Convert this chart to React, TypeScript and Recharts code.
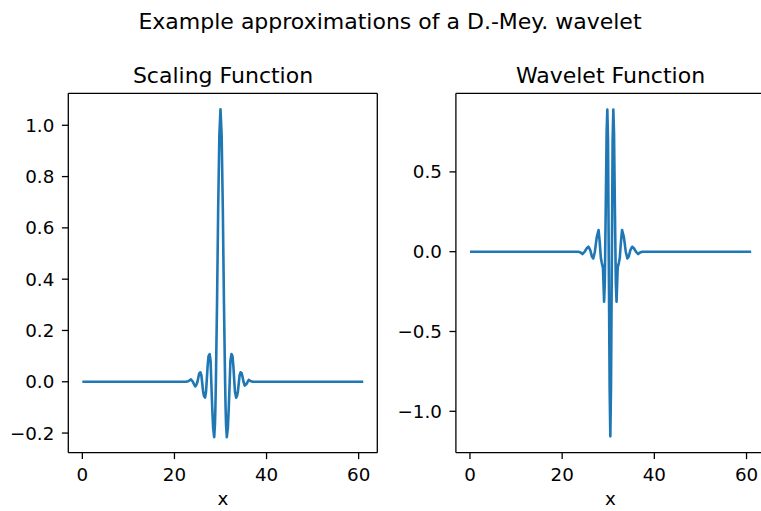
import React from 'react';
import { LineChart, Line, XAxis, YAxis, ReferenceLine } from 'recharts';

const figTitle = 'Example approximations of a D.-Mey. wavelet';
const scalingTitle = 'Scaling Function';
const waveletTitle = 'Wavelet Function';
const xLabel = 'x';

const xTicks = [0, 20, 40, 60];
const scalingTicks = [-0.2, 0, 0.2, 0.4, 0.6, 0.8, 1.0];
const waveletTicks = [-1.0, -0.5, 0, 0.5];

// scaling function phi(x): [x, y]
const scalingPoints: [number, number][] = [
  [0, 0], [10, 0], [20, 0], [22.5, 0], [23.0, 0.002], [23.6, 0.009], [24.0, 0.0],
  [24.3, -0.012], [24.55, -0.018], [24.8, -0.01], [25.0, 0.0], [25.2, 0.018],
  [25.4, 0.033], [25.65, 0.037], [25.85, 0.025], [26.0, 0.0], [26.2, -0.035],
  [26.4, -0.055], [26.65, -0.062], [26.85, -0.04], [27.0, 0.0], [27.2, 0.06],
  [27.4, 0.1], [27.65, 0.108], [27.85, 0.08], [28.0, 0.0], [28.2, -0.1],
  [28.4, -0.18], [28.63, -0.216], [28.8, -0.165], [28.9, -0.095], [29.0, 0.0],
  [29.25, 0.31], [29.5, 0.68], [29.75, 0.96], [30.0, 1.062], [30.25, 0.96],
  [30.5, 0.68], [30.75, 0.31], [31.0, 0.0], [31.1, -0.095], [31.2, -0.165],
  [31.37, -0.216], [31.6, -0.18], [31.8, -0.1], [32.0, 0.0], [32.15, 0.08],
  [32.39, 0.108], [32.6, 0.1], [32.8, 0.06], [33.0, 0.0], [33.15, -0.04],
  [33.4, -0.062], [33.6, -0.055], [33.8, -0.035], [34.0, 0.0], [34.15, 0.025],
  [34.35, 0.037], [34.6, 0.033], [34.8, 0.018], [35.0, 0.0], [35.27, -0.015],
  [35.6, -0.01], [35.9, 0.0], [36.15, 0.007], [36.6, 0.002], [37.0, 0],
  [40, 0], [50, 0], [61, 0],
];

// wavelet function psi(x): [x, y]
const waveletPoints: [number, number][] = [
  [0, 0], [10, 0], [20, 0], [23.5, 0], [24.0, -0.005], [24.4, -0.015], [24.9, 0.0],
  [25.3, 0.02], [25.7, 0.031], [26.1, 0.01], [26.45, -0.03], [26.75, -0.042],
  [27.1, 0.0], [27.5, 0.09], [27.9, 0.136], [28.15, 0.06], [28.4, -0.04],
  [28.6, -0.07], [28.85, -0.1], [29.1, -0.313], [29.25, -0.2], [29.45, 0.25],
  [29.65, 0.75], [29.8, 0.89], [29.95, 0.7], [30.15, -0.2], [30.3, -0.85],
  [30.45, -1.157], [30.6, -0.85], [30.75, -0.2], [30.95, 0.7], [31.1, 0.89],
  [31.25, 0.75], [31.45, 0.25], [31.65, -0.2], [31.8, -0.313], [32.05, -0.1],
  [32.3, -0.07], [32.5, -0.04], [32.75, 0.06], [33.0, 0.136], [33.4, 0.09],
  [33.8, 0.0], [34.15, -0.042], [34.45, -0.03], [34.8, 0.01], [35.2, 0.031],
  [35.6, 0.02], [36.0, 0.0], [36.5, -0.015], [36.9, -0.005], [37.4, 0],
  [40, 0], [50, 0], [61, 0],
];

const FONT = '"DejaVu Sans", sans-serif';
const BLUE = '#1f77b4';
const X_DOMAIN: [number, number] = [-3.05, 64.05];
const SCALING_DOMAIN: [number, number] = [-0.2766, 1.1247];
const WAVELET_DOMAIN: [number, number] = [-1.2595, 0.9925];

const fmtY = (v: number) => (v < 0 ? '\u2212' : '') + Math.abs(v).toFixed(1);
const fmtX = (v: number) => String(v);

const tickStyle = { fill: '#000', fontSize: 18.3, fontFamily: FONT };
const spine = { stroke: '#000', strokeWidth: 1.3 };

type PanelProps = {
  points: [number, number][];
  yDomain: [number, number];
  yTicks: number[];
  left: number;
  marginLeft: number;
  marginRight: number;
};

function Panel({ points, yDomain, yTicks, left, marginLeft, marginRight }: PanelProps) {
  const data = points.map(([x, y]) => ({ x, y }));
  return (
    <div style={{ position: 'absolute', left, top: 0 }}>
      <LineChart
        width={400}
        height={511}
        data={data}
        margin={{ top: 93.3, right: marginRight, bottom: 18.3, left: marginLeft }}
      >
        <XAxis
          dataKey="x"
          type="number"
          domain={X_DOMAIN}
          allowDataOverflow
          ticks={xTicks}
          interval={0}
          tickFormatter={fmtX}
          height={40}
          tick={tickStyle}
          tickSize={6.4}
          tickMargin={8.6}
          tickLine={spine}
          axisLine={spine}
        />
        <YAxis
          type="number"
          domain={yDomain}
          allowDataOverflow
          ticks={yTicks}
          interval={0}
          tickFormatter={fmtY}
          width={60}
          tick={tickStyle}
          tickSize={6.4}
          tickMargin={7.6}
          tickLine={spine}
          axisLine={spine}
        />
        <ReferenceLine y={yDomain[1]} stroke="#000" strokeWidth={1.3} ifOverflow="visible" />
        <ReferenceLine x={X_DOMAIN[1]} stroke="#000" strokeWidth={1.3} ifOverflow="visible" />
        <Line
          type="linear"
          dataKey="y"
          stroke={BLUE}
          strokeWidth={2.6}
          dot={false}
          activeDot={false}
          isAnimationActive={false}
          strokeLinejoin="round"
          strokeLinecap="butt"
        />
      </LineChart>
    </div>
  );
}

export default function App() {
  return (
    <div
      style={{
        position: 'fixed',
        left: 0,
        top: 0,
        width: 761,
        height: 511,
        overflow: 'hidden',
        background: '#fff',
      }}
    >
      <Panel
        points={scalingPoints}
        yDomain={SCALING_DOMAIN}
        yTicks={scalingTicks}
        left={0}
        marginLeft={8.3}
        marginRight={22.7}
      />
      <Panel
        points={waveletPoints}
        yDomain={WAVELET_DOMAIN}
        yTicks={waveletTicks}
        left={380}
        marginLeft={15.9}
        marginRight={14.8}
      />
      <svg
        width={761}
        height={511}
        style={{ position: 'absolute', left: 0, top: 0, pointerEvents: 'none' }}
      >
        <g fontFamily={FONT} fill="#000" textAnchor="middle">
          <text x={390} y={29} fontSize={22}>{figTitle}</text>
          <text x={223} y={82.5} fontSize={22}>{scalingTitle}</text>
          <text x={610.5} y={82.5} fontSize={22}>{waveletTitle}</text>
          <text x={223} y={505} fontSize={18.3}>{xLabel}</text>
          <text x={610.5} y={505} fontSize={18.3}>{xLabel}</text>
        </g>
      </svg>
    </div>
  );
}
